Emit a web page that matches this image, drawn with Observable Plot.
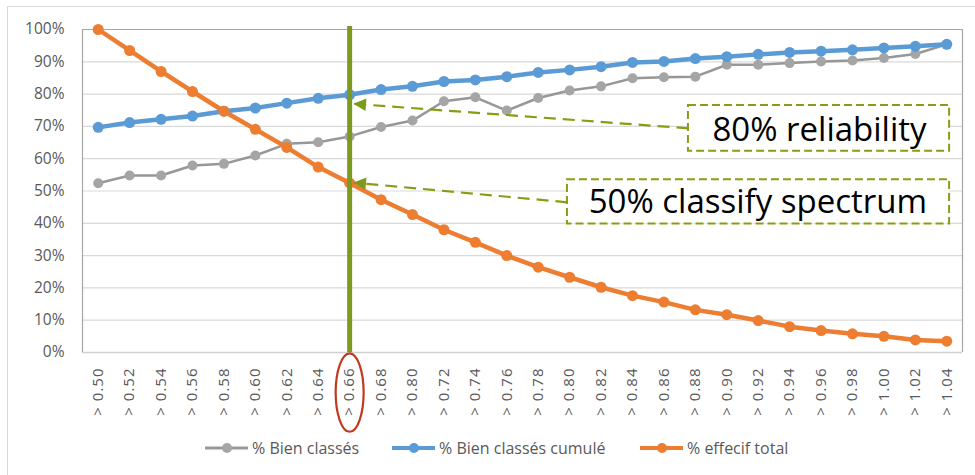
<!DOCTYPE html>
<html>
<head>
<meta charset="utf-8">
<script src="https://cdn.jsdelivr.net/npm/d3@7"></script>
<script src="https://cdn.jsdelivr.net/npm/@observablehq/plot@0.6"></script>
<style>
  body { margin: 0; background: #fff; font-family: "Open Sans", sans-serif; }
  #wrap { position: relative; width: 975px; height: 475px; overflow: hidden; background: #fff; }
  #frame { position: absolute; left: 7px; top: 6px; width: 1000px; height: 500px;
           border-left: 1px solid #d9d9d9; border-top: 1px solid #d9d9d9; }
  #chart { position: absolute; left: 0; top: 0; }
  #chart g[aria-label="x-axis tick label"] text { letter-spacing: 1px; }
  .leg { position: absolute; top: 437px; height: 22px; display: flex; align-items: center;
         font-size: 16px; color: #595959; white-space: nowrap; }
  .leg span { margin-left: 3px; }
</style>
</head>
<body>
<div id="wrap">
  <div id="frame"></div>
  <div id="chart"></div>
  <div id="legend"></div>
</div>
<script>
// ---- Data ----
const thresholds = ["> 0.50","> 0.52","> 0.54","> 0.56","> 0.58","> 0.60","> 0.62","> 0.64","> 0.66","> 0.68",
                    "> 0.80","> 0.72","> 0.74","> 0.76","> 0.78","> 0.80","> 0.82","> 0.84","> 0.86","> 0.88",
                    "> 0.90","> 0.92","> 0.94","> 0.96","> 0.98","> 1.00","> 1.02","> 1.04"];
const bienClasses = [0.524,0.548,0.548,0.579,0.584,0.610,0.646,0.651,0.669,0.698,
                     0.718,0.778,0.790,0.749,0.788,0.811,0.824,0.849,0.852,0.854,
                     0.891,0.891,0.896,0.901,0.904,0.912,0.924,0.954];
const bienClassesCumule = [0.697,0.712,0.722,0.732,0.747,0.757,0.772,0.787,0.798,0.814,
                           0.824,0.839,0.844,0.854,0.867,0.875,0.885,0.898,0.901,0.910,
                           0.916,0.923,0.929,0.933,0.937,0.943,0.948,0.954];
const effectifTotal = [1.000,0.935,0.870,0.808,0.747,0.691,0.635,0.574,0.525,0.473,
                       0.427,0.380,0.341,0.300,0.264,0.233,0.202,0.176,0.156,0.132,
                       0.117,0.099,0.080,0.068,0.058,0.050,0.039,0.035];
const seriesNames = ["% Bien classés", "% Bien classés cumulé", "% effecif total"];
const seriesColors = ["#A5A5A5", "#5B9BD5", "#ED7D31"];
const lineColors = ["#979797", "#5B9BD5", "#ED7D31"];

// annotations (in data units: x = threshold index, y = share)
const cutoffIndex = 8;
const noteBoxes = [
  {label: "80% reliability",       x1: 18.78, x2: 27.09, y1: 0.623, y2: 0.765, tx: 22.95, ty: 0.689},
  {label: "50% classify spectrum", x1: 14.93, x2: 27.09, y1: 0.398, y2: 0.535, tx: 20.99, ty: 0.464}
];
const noteArrows = [
  {x1: 18.78, y1: 0.694, x2: 8.12, y2: 0.770, angle: 4.2},
  {x1: 14.93, y1: 0.465, x2: 8.12, y2: 0.526, angle: 5.3}
];
const ellipseCenterY = -0.124;

// ---- Helpers ----
const toRows = arr => arr.map((v, i) => ({i, v}));
const ellipseSymbol = {
  draw(ctx, size) {
    const rx = Math.sqrt(size / Math.PI), ry = rx * 2.8, k = 0.5523;
    ctx.moveTo(rx, 0);
    ctx.bezierCurveTo(rx, ry * k, rx * k, ry, 0, ry);
    ctx.bezierCurveTo(-rx * k, ry, -rx, ry * k, -rx, 0);
    ctx.bezierCurveTo(-rx, -ry * k, -rx * k, -ry, 0, -ry);
    ctx.bezierCurveTo(rx * k, -ry, rx, -ry * k, rx, 0);
    ctx.closePath();
  }
};
const arrowHead = deg => ({
  draw(ctx, size) {
    const r = Math.sqrt(size / Math.PI), a = deg * Math.PI / 180;
    const rot = (x, y) => [x * Math.cos(a) - y * Math.sin(a), x * Math.sin(a) + y * Math.cos(a)];
    const p1 = rot(1.8 * r, -0.9 * r), p2 = rot(1.8 * r, 0.9 * r);
    ctx.moveTo(0, 0); ctx.lineTo(p1[0], p1[1]); ctx.lineTo(p2[0], p2[1]); ctx.closePath();
  }
});

const xDomain = [-0.5, thresholds.length - 0.5];
const olive = "#7E9A1E", oliveDash = "#8C9B12";

const chart = Plot.plot({
  width: 975,
  height: 432,
  marginLeft: 82,
  marginRight: 13,
  marginTop: 29,
  marginBottom: 80,
  x: {type: "linear", domain: xDomain, axis: null},
  y: {domain: [0, 1], axis: null},
  style: {fontFamily: "'Open Sans', sans-serif", color: "#595959", background: "transparent", overflow: "visible"},
  marks: [
    Plot.gridY({ticks: 10, stroke: "#d9d9d9", strokeOpacity: 1, strokeWidth: 1.2}),
    Plot.ruleY([0], {stroke: "#d0d0d0", strokeWidth: 1.5}),
    Plot.ruleY([1], {stroke: "#a6a6a6", strokeWidth: 1.2}),
    Plot.ruleX(xDomain, {stroke: "#a6a6a6", strokeWidth: 1.2}),
    Plot.axisY({ticks: 10, tickFormat: d3.format(".0%"), tickSize: 0, tickPadding: 18, fontSize: 15.5}),
    Plot.axisX({ticks: d3.range(thresholds.length), tickFormat: i => thresholds[i],
                tickRotate: -90, tickSize: 0, tickPadding: 15, fontSize: 15}),
    // series
    Plot.line(toRows(bienClasses), {x: "i", y: "v", stroke: lineColors[0], strokeWidth: 2.5}),
    Plot.dot(toRows(bienClasses), {x: "i", y: "v", r: 5, fill: seriesColors[0]}),
    Plot.line(toRows(bienClassesCumule), {x: "i", y: "v", stroke: lineColors[1], strokeWidth: 4.5}),
    Plot.dot(toRows(bienClassesCumule), {x: "i", y: "v", r: 5.5, fill: seriesColors[1]}),
    Plot.line(toRows(effectifTotal), {x: "i", y: "v", stroke: lineColors[2], strokeWidth: 4.5}),
    Plot.dot(toRows(effectifTotal), {x: "i", y: "v", r: 5.5, fill: seriesColors[2]}),
    // annotations
    Plot.ruleX([cutoffIndex], {y1: 0, y2: 1.009, stroke: olive, strokeWidth: 5}),
    Plot.dot([cutoffIndex], {x: d => d, y: () => ellipseCenterY, r: 14, symbol: ellipseSymbol,
                             fill: "none", stroke: "#C2391E", strokeWidth: 2.2}),
    Plot.rect(noteBoxes, {x1: "x1", x2: "x2", y1: "y1", y2: "y2", fill: "white",
                          stroke: oliveDash, strokeWidth: 2, strokeDasharray: "8,4"}),
    Plot.link(noteArrows, {x1: "x1", y1: "y1", x2: "x2", y2: "y2", stroke: oliveDash,
                           strokeWidth: 2.2, strokeDasharray: "12,7"}),
    ...noteArrows.map(a => Plot.dot([a], {x: "x2", y: "y2", r: 7, symbol: arrowHead(a.angle),
                                          fill: olive, stroke: "none"})),
    Plot.text(noteBoxes, {x: "tx", y: "ty", text: "label", fontSize: 33, fill: "black",
                          textAnchor: "middle", lineAnchor: "middle"})
  ]
});
document.getElementById("chart").appendChild(chart);

// ---- Legend ----
const legendLefts = [205, 392, 640];
const legend = d3.select("#legend");
seriesNames.forEach((name, k) => {
  const item = legend.append("div").attr("class", "leg").style("left", legendLefts[k] + "px");
  const svg = item.append("svg").attr("width", 44).attr("height", 22);
  svg.append("line").attr("x1", 0).attr("x2", 43).attr("y1", 11).attr("y2", 11)
     .attr("stroke", lineColors[k]).attr("stroke-width", k === 0 ? 3 : 4);
  svg.append("circle").attr("cx", 22).attr("cy", 11).attr("r", 5).attr("fill", seriesColors[k]);
  item.append("span").text(name);
});
</script>
</body>
</html>
